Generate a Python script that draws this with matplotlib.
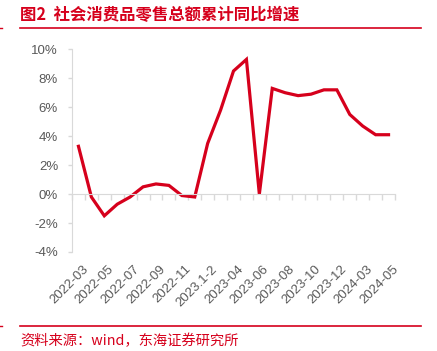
import matplotlib
matplotlib.use("Agg")
import matplotlib.pyplot as plt
import matplotlib.transforms as mtransforms
from matplotlib.lines import Line2D
from matplotlib.ticker import FuncFormatter

# 数据: 社会消费品零售总额累计同比 (%)
months = ["2022-03", "2022-04", "2022-05", "2022-06", "2022-07", "2022-08",
          "2022-09", "2022-10", "2022-11", "2022-12", "2023.1-2", "2023-03",
          "2023-04", "2023-05", "2023-06", "2023-07", "2023-08", "2023-09",
          "2023-10", "2023-11", "2023-12", "2024.1-2", "2024-03", "2024-04",
          "2024-05"]
growth = [3.3, -0.2, -1.5, -0.7, -0.2, 0.5, 0.7, 0.6, -0.1, -0.2, 3.5, 5.8,
          8.5, 9.3, 0.0, 7.3, 7.0, 6.8, 6.9, 7.2, 7.2, 5.5, 4.7, 4.1, 4.1]
yticks = [-4, -2, 0, 2, 4, 6, 8, 10]

red = "#d6001c"
gray_txt = "#595959"
gray_ax = "#d9d9d9"

W, H = 437, 351
fig = plt.figure(figsize=(W / 100, H / 100), dpi=100)
ax = fig.add_axes([72 / W, 1 - 252 / H, (395 - 72) / W, (252 - 49.3) / H])

x = list(range(len(months)))
ax.plot(x, growth, color=red, lw=2.3, solid_joinstyle="miter")

ax.set_xlim(-0.5, len(months) - 0.5)
ax.set_ylim(-4, 10)
ax.set_yticks(yticks)
ax.yaxis.set_major_formatter(FuncFormatter(lambda v, p: "%d%%" % v))
ax.tick_params(axis="y", length=3, width=1, color=gray_ax, pad=7,
               labelsize=9.5, labelcolor=gray_txt)
for lab in ax.get_yticklabels():
    lab.set_fontfamily("Liberation Sans")

for s in ["top", "right"]:
    ax.spines[s].set_visible(False)
ax.spines["left"].set_color(gray_ax)
ax.spines["bottom"].set_color(gray_ax)
ax.spines["bottom"].set_position(("data", 0))

# 刻度在类别边界
ax.set_xticks([i - 0.5 for i in range(len(months) + 1)])
ax.set_xticklabels([])
ax.tick_params(axis="x", length=4, width=1, color=gray_ax, direction="out")

# 标签在底部
sec = ax.secondary_xaxis("bottom")
sec.spines["bottom"].set_visible(False)
sec.set_xticks(x)
sec.set_xticklabels([m if i % 2 == 0 else "" for i, m in enumerate(months)])
sec.tick_params(length=0, pad=8, labelsize=9.5, labelcolor=gray_txt)
offset = mtransforms.ScaledTranslation(0.035, 0, fig.dpi_scale_trans)
for lab in sec.get_xticklabels():
    lab.set_rotation(45)
    lab.set_rotation_mode("anchor")
    lab.set_ha("right")
    lab.set_va("top")
    lab.set_fontfamily("Liberation Sans")
    lab.set_transform(lab.get_transform() + offset)

cjk = ["Noto Sans CJK SC", "DejaVu Sans"]
fig.text(20 / W, 1 - 15 / H, "图2  社会消费品零售总额累计同比增速", color=red,
         fontsize=11.8, fontweight="bold", family=cjk, ha="left", va="center")
fig.add_artist(Line2D([20 / W, 421 / W], [1 - 27.7 / H, 1 - 27.7 / H],
                      color=red, lw=1.2))
fig.add_artist(Line2D([20 / W, 421 / W], [1 - 325.5 / H, 1 - 325.5 / H],
                      color=red, lw=1.2))
fig.add_artist(Line2D([0, 1.5 / W], [1 - 27.7 / H, 1 - 27.7 / H], color=red, lw=1))
fig.add_artist(Line2D([0, 1.5 / W], [1 - 325.5 / H, 1 - 325.5 / H], color=red, lw=1))
fig.text(20 / W, 1 - 341 / H, "资料来源：wind，东海证券研究所", color=red,
         fontsize=10.3, family=cjk, ha="left", va="center")

fig.savefig("out.png", dpi=100)
